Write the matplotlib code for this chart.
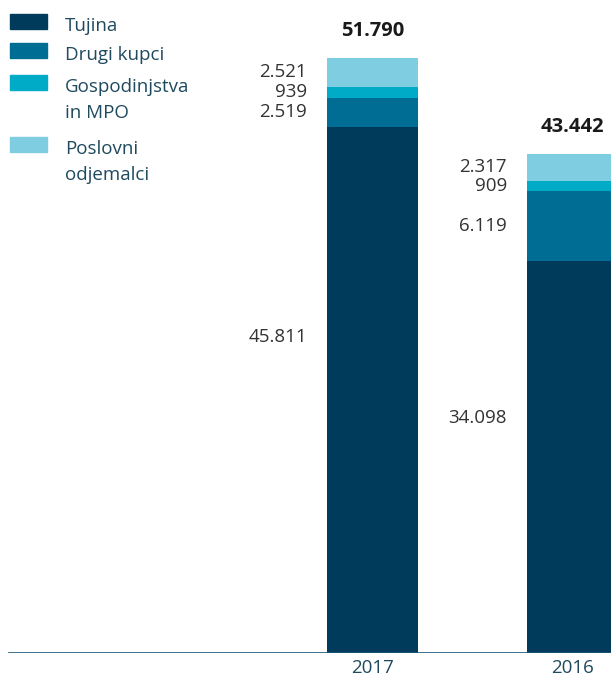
import numpy as np
import matplotlib.pyplot as plt
from matplotlib.patches import Rectangle

plt.rcParams['font.family'] = ['Open Sans', 'DejaVu Sans']

# data
years = ["2017", "2016"]
series = ["Tujina", "Drugi kupci", "Gospodinjstva\nin MPO", "Poslovni\nodjemalci"]
tujina = [45811, 34098]
drugi = [2519, 6119]
gospod = [939, 909]
poslovni = [2521, 2317]
totals = ["51.790", "43.442"]
value_labels = [["45.811", "34.098"], ["2.519", "6.119"], ["939", "909"], ["2.521", "2.317"]]

colors = ["#003b5c", "#006d94", "#00abc8", "#7fcde0"]
txt_dark = "#333333"
txt_blue = "#1f4a5e"

W, H = 611, 681
fig = plt.figure(figsize=(W / 100, H / 100), dpi=100)
base_px = 653
ax = fig.add_axes([0, (H - base_px) / H, 1, base_px / H])
ax.axis("off")

scale = (base_px - 58) / 51790.0  # px per unit
ax.set_ylim(0, base_px / scale)
x = np.arange(len(years))
ax.set_xlim(-372.5 / 200, (W - 372.5) / 200)
bw = 91 / 200
fs = 13.5

stack = [tujina, drugi, gospod, poslovni]
bottom = np.zeros(len(years))
for i, vals in enumerate(stack):
    vals = np.array(vals, dtype=float)
    ax.bar(x, vals, bw, bottom=bottom, color=colors[i], linewidth=0)
    for j in range(len(years)):
        frac = 0.6 if i == 0 else 0.5
        ax.text(x[j] - bw / 2 - 20 / 200, bottom[j] + vals[j] * frac, value_labels[i][j],
                ha="right", va="center", fontsize=fs, color=txt_dark)
    bottom += vals

for j in range(len(years)):
    ax.text(x[j], bottom[j] + 27 / scale, totals[j], ha="center", va="center",
            fontsize=14.5, fontweight="bold", color="#1a1a1a")
    ax.text(x[j], -15 / scale, years[j], ha="center", va="center",
            fontsize=fs, color=txt_blue, clip_on=False)

ax.axhline(0, xmin=9 / W, xmax=1, color="#1f5a7a", linewidth=1.2)

# legend drawn by hand
patch_top = [14, 43, 75, 137]
for i, name in enumerate(series):
    y0 = patch_top[i]
    fig.patches.append(Rectangle((10 / W, 1 - (y0 + 15) / H), 37 / W, 15 / H,
                                 transform=fig.transFigure, color=colors[i]))
    for k, line in enumerate(name.split("\n")):
        fig.text(65 / W, 1 - (y0 + 17 + 26 * k) / H, line, ha="left", va="baseline",
                 fontsize=fs, color=txt_blue)

fig.savefig("out.png", dpi=100)
